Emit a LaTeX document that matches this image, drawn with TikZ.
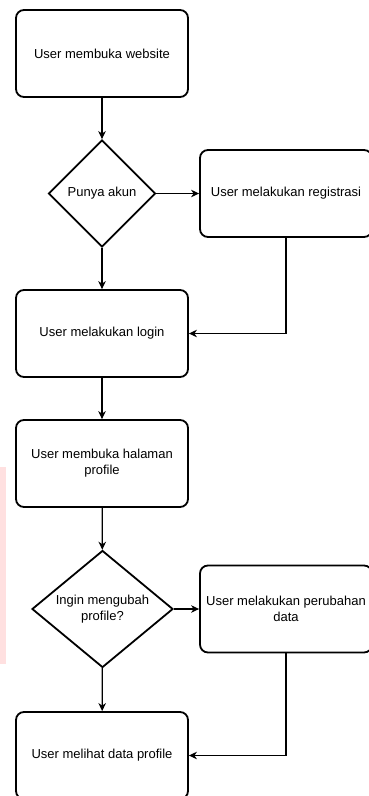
\documentclass[tikz,border=0pt]{standalone}
\usepackage{fontspec}
\setmainfont{Liberation Sans}
\usetikzlibrary{shapes.geometric,arrows.meta}
\begin{document}
\begin{tikzpicture}[x=1pt,y=-1pt,
  lbl/.style={font=\fontsize{13}{16}\selectfont, align=center},
  proc/.style={lbl, draw, line width=1.8pt, rounded corners=8pt,
    minimum width=172pt, minimum height=87pt, inner sep=0pt},
  decide/.style={lbl, draw, diamond, line width=1.8pt, aspect=1.2, inner sep=0pt},
  link/.style={draw, line width=1.2pt,
    -{Stealth[length=8pt,width=7.5pt,inset=2.5pt]}}]
  \useasboundingbox (0,0) rectangle (368,796);
  \fill[white] (0,0) rectangle (368,796);
  % faint margin mark
  \fill[red!12] (0,467) rectangle (6,664);

  \node[proc] (open) at (102,53.5) {User membuka website};
  \node[decide, minimum width=107pt, minimum height=107pt] (acct) at (102,193.5) {Punya akun};
  \node[proc] (reg) at (286,193.5) {User melakukan registrasi};
  \node[proc] (login) at (102,333.5) {User melakukan login};
  \node[proc] (prof) at (102,463.5) {User membuka halaman\\profile};
  \node[decide, minimum width=141pt, minimum height=117pt] (edit) at (102.5,609) {Ingin mengubah\\profile?};
  \node[proc] (change) at (286,609) {User melakukan perubahan\\data};
  \node[proc] (view) at (102,755.5) {User melihat data profile};

  \draw[link] (open) -- (acct);
  \draw[link] (acct) -- (reg);
  \draw[link] (acct) -- (login);
  \draw[link] (reg.south) |- (login.east);
  \draw[link] (login) -- (prof);
  \draw[link] (prof) -- (edit);
  \draw[link] (edit) -- (change);
  \draw[link] (edit) -- (view);
  \draw[link] (change.south) |- (view.east);
\end{tikzpicture}
\end{document}
